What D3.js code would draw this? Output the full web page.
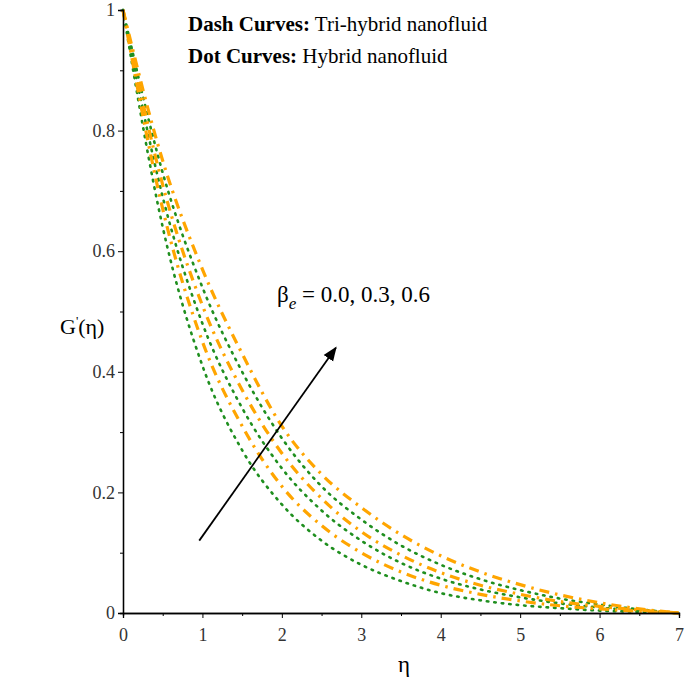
<!DOCTYPE html>
<html><head><meta charset="utf-8">
<script src="https://cdn.jsdelivr.net/npm/d3@7"></script>
<style>body{margin:0;background:#fff}text{font-family:"Liberation Serif",serif}</style>
</head><body><svg id="c" width="685" height="688"></svg>
<script>
const eta = [0, 0.5, 1, 1.5, 2, 2.5, 3, 3.5, 4, 4.5, 5, 5.5, 6, 6.5, 7];
const dot1 = [1, .64, .41, .27, .18, .12, .08, .053, .033, .021, .013, .008, .004, .002, 0];
const dot2 = [1, .69, .48, .34, .24, .17, .12, .083, .057, .039, .026, .016, .009, .004, 0];
const dot3 = [1, .73, .54, .40, .29, .21, .155, .112, .08, .056, .038, .024, .014, .006, 0];
const dash1 = [1, .67, .45, .31, .21, .145, .10, .068, .046, .031, .020, .012, .007, .003, 0];
const dash2 = [1, .71, .51, .37, .265, .19, .135, .096, .067, .046, .031, .019, .011, .005, 0];
const dash3 = [1, .75, .57, .43, .31, .23, .175, .13, .095, .068, .047, .030, .017, .007, 0];
const xTicks = [0, 1, 2, 3, 4, 5, 6, 7];
const yTicks = [0, 0.2, 0.4, 0.6, 0.8, 1];

const svg = d3.select("#c");
const x = d3.scaleLinear().domain([0, 7]).range([123, 679]);
const y = d3.scaleLinear().domain([0, 1]).range([613, 10]);

const line = d3.line().x((d, i) => x(eta[i])).y(d => y(d)).curve(d3.curveMonotoneX);

[dot1, dot2, dot3].forEach(s => svg.append("path").attr("d", line(s))
  .attr("fill", "none").attr("stroke", "#1f8f1f").attr("stroke-width", 2.6)
  .attr("stroke-dasharray", "1.5,6").attr("stroke-linecap", "round"));
[dash1, dash2, dash3].forEach(s => svg.append("path").attr("d", line(s))
  .attr("fill", "none").attr("stroke", "#ffa500").attr("stroke-width", 3.2)
  .attr("stroke-dasharray", "10,6,2.5,6"));

const xa = svg.append("g").attr("transform", "translate(0,613)")
  .call(d3.axisBottom(x).tickValues(xTicks).tickFormat(d3.format("d")).tickSize(5));
svg.append("g").attr("transform", "translate(0,613)")
  .call(d3.axisBottom(x).tickValues(d3.range(0.5, 7, 1)).tickFormat("").tickSize(3));
const ya = svg.append("g").attr("transform", "translate(123,0)")
  .call(d3.axisLeft(y).tickValues(yTicks).tickFormat(d => d === 0 || d === 1 ? d : d3.format(".1f")(d)).tickSize(5));
svg.append("g").attr("transform", "translate(123,0)")
  .call(d3.axisLeft(y).tickValues(d3.range(0.1, 1, 0.2)).tickFormat("").tickSize(3));
svg.selectAll(".domain").attr("stroke", "#000").attr("stroke-width", 1.3);
svg.selectAll(".tick text").style("font-family", "Liberation Serif").style("font-size", "18px").attr("fill", "#333");
xa.selectAll(".tick text").attr("dy", "1.1em");

svg.append("text").attr("x", 404).attr("y", 672).attr("text-anchor", "middle")
  .style("font-size", "23px").text("η");
const yl = svg.append("text").attr("x", 60).attr("y", 334).style("font-size", "22px");
yl.append("tspan").text("G");
yl.append("tspan").attr("dy", -9).style("font-size", "13px").text("'");
yl.append("tspan").attr("dy", 9).text("(η)");

const lg = [["Dash Curves:", " Tri-hybrid nanofluid", 31], ["Dot Curves:", " Hybrid nanofluid", 63]];
lg.forEach(([b, t, yy]) => {
  const tx = svg.append("text").attr("x", 188).attr("y", yy).style("font-size", "21px");
  tx.append("tspan").style("font-weight", "bold").text(b);
  tx.append("tspan").text(t);
});

svg.append("defs").append("marker").attr("id", "ah").attr("viewBox", "0 0 10 10")
  .attr("refX", 9).attr("refY", 5).attr("markerWidth", 8).attr("markerHeight", 8)
  .attr("orient", "auto").attr("markerUnits", "strokeWidth")
  .append("path").attr("d", "M0,1L10,5L0,9z").attr("fill", "#000");
svg.append("line").attr("x1", x(0.96)).attr("y1", y(0.12)).attr("x2", x(2.68)).attr("y2", y(0.44))
  .attr("stroke", "#000").attr("stroke-width", 1.8).attr("marker-end", "url(#ah)");

const bl = svg.append("text").attr("x", 277).attr("y", 302).style("font-size", "23px");
bl.append("tspan").text("β");
bl.append("tspan").attr("dy", 7).style("font-size", "17px").style("font-style", "italic").text("e");
bl.append("tspan").attr("dy", -7).text(" = 0.0, 0.3, 0.6");
</script></body></html>
